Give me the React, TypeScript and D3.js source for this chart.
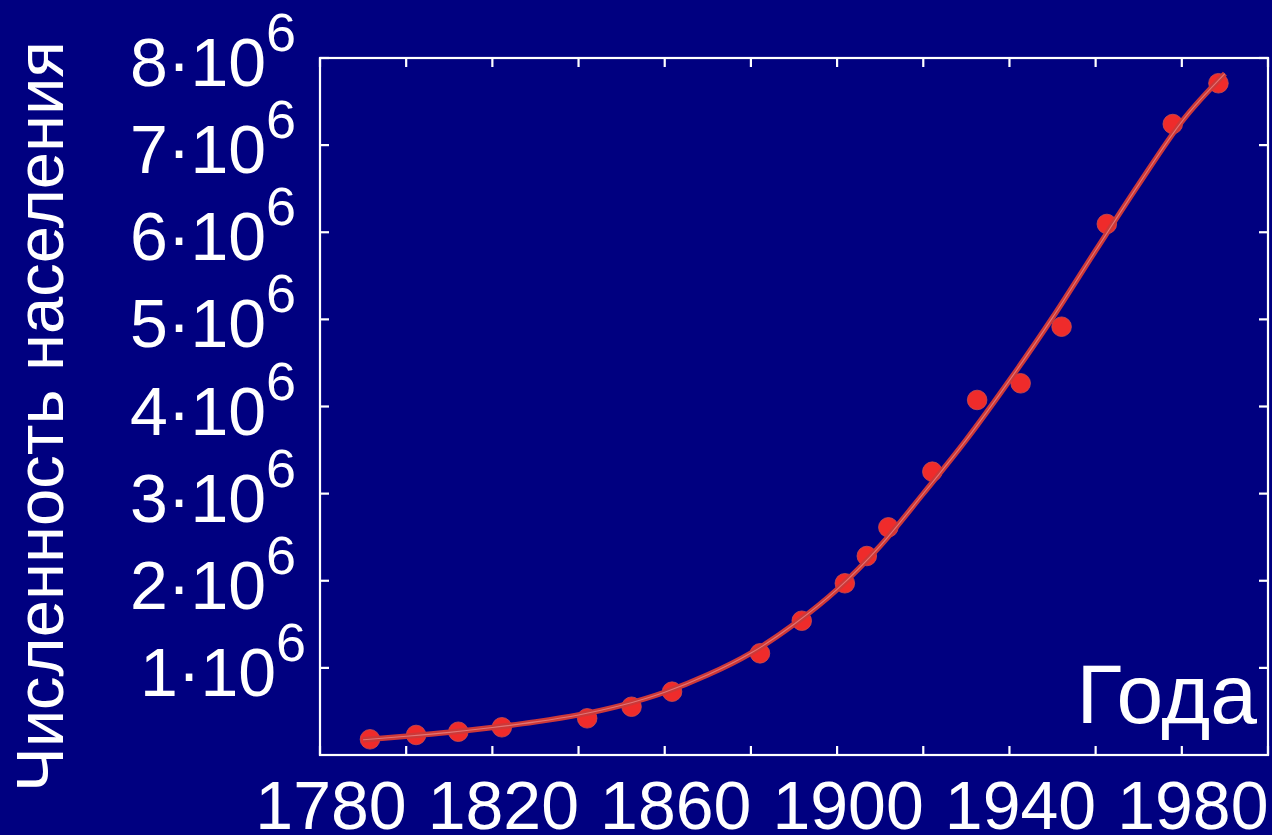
import React from "react";
import * as d3 from "d3";

// Census observations: year and population (millions)
const obsYears = [1791.6, 1802.3, 1812.1, 1822.2, 1842.0, 1852.3, 1861.7, 1882.1, 1891.8, 1901.8, 1906.9, 1911.9, 1922.1, 1932.5, 1942.6, 1952.1, 1962.6, 1977.9, 1988.5];
const obsPop = [0.18, 0.23, 0.267, 0.318, 0.421, 0.554, 0.727, 1.167, 1.541, 1.971, 2.284, 2.613, 3.252, 4.075, 4.266, 4.916, 6.095, 7.242, 7.71];

// Fitted trend curve, sampled by year (millions)
const fitYears = [1790, 1800, 1810, 1820, 1830, 1840, 1850, 1860, 1870, 1880, 1890, 1900, 1910, 1920, 1930, 1940, 1950, 1960, 1970, 1980, 1990];
const fitPop = [0.175, 0.215, 0.26, 0.315, 0.38, 0.46, 0.57, 0.72, 0.92, 1.17, 1.5, 1.9, 2.4, 3.0, 3.62, 4.3, 5.02, 5.79, 6.55, 7.27, 7.82];

const xTickYears = [1780, 1800, 1820, 1840, 1860, 1880, 1900, 1920, 1940, 1960, 1980, 2000];
const xLabelYears = [1780, 1820, 1860, 1900, 1940, 1980];
const yTickValues = [1, 2, 3, 4, 5, 6, 7, 8];

const W = 1272;
const H = 835;
const left = 320, right = 1268, top = 58, bottom = 755;
const font = "'Liberation Sans', Arial, sans-serif";
const bg = "#000080";

export default function App() {
  const x = d3.scaleLinear().domain([1780, 2000]).range([left, right]);
  const y = d3.scaleLinear().domain([0, 8]).range([bottom, top]);

  const line = d3
    .line<number>()
    .x((_, i) => x(fitYears[i]))
    .y((d) => y(d))
    .curve(d3.curveMonotoneX);
  const path = line(fitPop) || "";

  const tickLen = 9;

  return (
    <svg
      width={W}
      height={H}
      style={{ position: "absolute", left: 0, top: 0, display: "block" }}
    >
      <rect x={0} y={0} width={W} height={H} fill={bg} />

      {/* observations */}
      {obsYears.map((yr, i) => (
        <circle key={i} cx={x(yr)} cy={y(obsPop[i])} r={9.8} fill="#ef2b2b" stroke="#c85050" strokeWidth={0.8} />
      ))}

      {/* trend curve */}
      <path d={path} fill="none" stroke="#cd3838" strokeWidth={5.5} strokeLinejoin="round" />
      <path d={path} fill="none" stroke="#e98585" strokeWidth={1.1} opacity={0.8} />

      {/* frame */}
      <rect x={left} y={top} width={right - left} height={bottom - top} fill="none" stroke="#fff" strokeWidth={2.2} />

      {/* x ticks, bottom and top, pointing inward */}
      {xTickYears.map((yr) => (
        <g key={yr} stroke="#fff" strokeWidth={2.2}>
          <line x1={x(yr)} x2={x(yr)} y1={bottom} y2={bottom - tickLen} />
          <line x1={x(yr)} x2={x(yr)} y1={top} y2={top + tickLen} />
        </g>
      ))}

      {/* y ticks, left and right */}
      {yTickValues.map((v) => (
        <g key={v} stroke="#fff" strokeWidth={2.2}>
          <line x1={left} x2={left + tickLen} y1={y(v)} y2={y(v)} />
          <line x1={right} x2={right - tickLen} y1={y(v)} y2={y(v)} />
        </g>
      ))}

      {/* x labels */}
      {xLabelYears.map((yr) => (
        <text
          key={yr}
          x={x(yr) + 11}
          y={829}
          textAnchor="middle"
          fontFamily={font}
          fontSize={68}
          fill="#fff"
        >
          {yr}
        </text>
      ))}

      {/* y labels: n·10^6 */}
      {yTickValues.map((v) => (
        <text
          key={v}
          x={v === 1 ? 140 : 130}
          y={y(v) + 28}
          fontFamily={font}
          fontSize={68}
          fill="#fff"
        >
          {`${v}\u00B710`}
          <tspan dy={-35} fontSize={54}>6</tspan>
        </text>
      ))}

      {/* axis titles */}
      <text
        transform={`translate(63, 792) rotate(-90)`}
        fontFamily={font}
        fontSize={67}
        fill="#fff"
      >
        Численность населения
      </text>
      <text x={1257} y={723} textAnchor="end" fontFamily={font} fontSize={84} fill="#fff">
        Года
      </text>
    </svg>
  );
}
